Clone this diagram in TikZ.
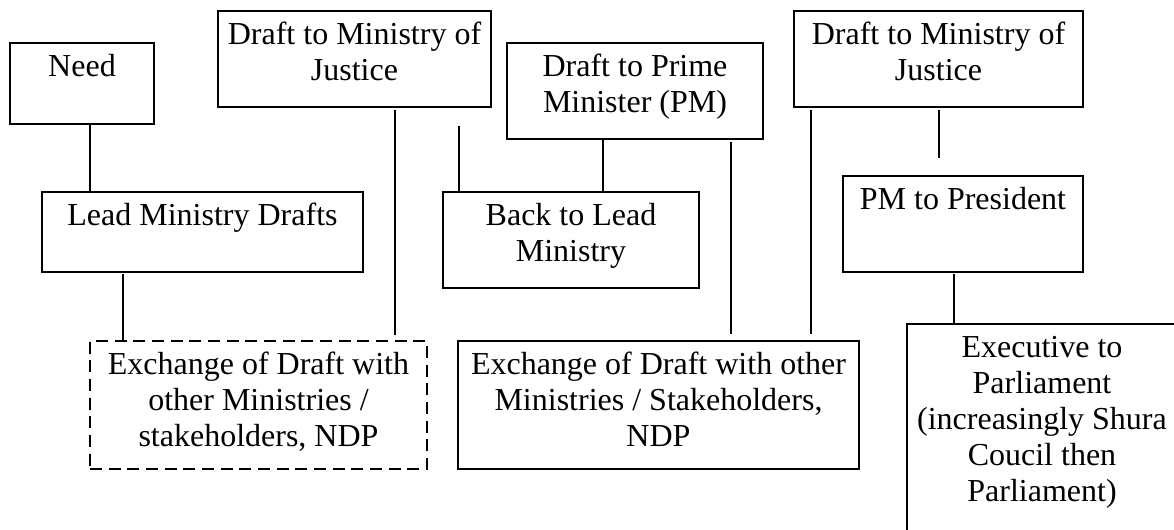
\documentclass[tikz,border=0pt]{standalone}
\usepackage{fontspec}
\setmainfont{Liberation Serif}
\usetikzlibrary{fit,calc}

\tikzset{
  stage/.style={draw, rectangle, inner sep=0pt, outer sep=0pt, line width=1.5pt},
  optional/.style={stage, dash pattern=on 9pt off 5pt},
  caption/.style={anchor=north, inner sep=0pt, align=center,
    font=\fontsize{24}{27}\selectfont},
  link/.style={line width=1.3pt}
}

\begin{document}
\begin{tikzpicture}[x=0.75pt, y=-0.75pt]
\useasboundingbox (0,0) rectangle (1174,530);
\clip (0,0) rectangle (1174,530);

% stages of the drafting process
\node[stage,    fit={(10,43)(154,124)}]    (need)  {};
\node[stage,    fit={(42,192)(363,272)}]   (lead)  {};
\node[optional, fit={(90,341)(427,469)}]   (exch1) {};
\node[stage,    fit={(218,11)(491,107)}]   (moj1)  {};
\node[stage,    fit={(507,43)(763,139)}]   (pm)    {};
\node[stage,    fit={(443,192)(699,288)}]  (back)  {};
\node[stage,    fit={(458,341)(859,469)}]  (exch2) {};
\node[stage,    fit={(794,11)(1083,107)}]  (moj2)  {};
\node[stage,    fit={(843,176)(1083,272)}] (pres)  {};
\node[stage,    fit={(907,324)(1177,545)}] (exec)  {};

% texts, set at the top of each stage
\node[caption] (need-t)  at ($(need.north)+(0,7.8)$)  {\strut Need};
\node[caption] (lead-t)  at ($(lead.north)+(0,7.8)$)  {\strut Lead Ministry Drafts};
\node[caption] (exch1-t) at ($(exch1.north)+(0,7.8)$) {\strut Exchange of Draft with\\other Ministries /\\stakeholders, NDP};
\node[caption] (moj1-t)  at ($(moj1.north)+(0,7.8)$)  {\strut Draft to Ministry of\\Justice};
\node[caption] (pm-t)    at ($(pm.north)+(0,7.8)$)    {\strut Draft to Prime\\Minister (PM)};
\node[caption] (back-t)  at ($(back.north)+(0,7.8)$)  {\strut Back to Lead\\Ministry};
\node[caption] (exch2-t) at ($(exch2.north)+(0,7.8)$) {\strut Exchange of Draft with other\\Ministries / Stakeholders,\\NDP};
\node[caption] (moj2-t)  at ($(moj2.north)+(0,7.8)$)  {\strut Draft to Ministry of\\Justice};
\node[caption] (pres-t)  at ($(pres.north)+(0,7.8)$)  {\strut PM to President};
\node[caption] (exec-t)  at ($(exec.north)+(0,7.8)$)  {\strut Executive to\\Parliament\\(increasingly Shura\\Coucil then\\Parliament)};

% connecting lines
\coordinate (l1) at ($(need.south west)+(80,0)$);
\draw[link] (l1) -- (l1 |- lead.north);
\coordinate (l2) at ($(lead.south west)+(81,2)$);
\draw[link] (l2) -- (l2 |- exch1.north);
\coordinate (l3) at ($(moj1.south west)+(177,3)$);
\draw[link] (l3) -- ($(l3 |- exch1.north)+(0,-6)$);
\coordinate (l4) at ($(moj1.south west)+(241,19)$);
\draw[link] (l4) -- (l4 |- back.north);
\coordinate (l5) at ($(pm.south west)+(96,0)$);
\draw[link] (l5) -- (l5 |- back.north);
\coordinate (l6) at ($(pm.south west)+(224,3)$);
\draw[link] (l6) -- ($(l6 |- exch2.north)+(0,-7)$);
\coordinate (l7) at ($(moj2.south west)+(17,3)$);
\draw[link] (l7) -- ($(l7 |- exch2.north)+(0,-7)$);
\coordinate (l8) at ($(moj2.south west)+(145,3)$);
\draw[link] (l8) -- ($(l8 |- pres.north)+(0,-18)$);
\coordinate (l9) at ($(pres.south west)+(111,2)$);
\draw[link] (l9) -- (l9 |- exec.north);
\end{tikzpicture}
\end{document}
